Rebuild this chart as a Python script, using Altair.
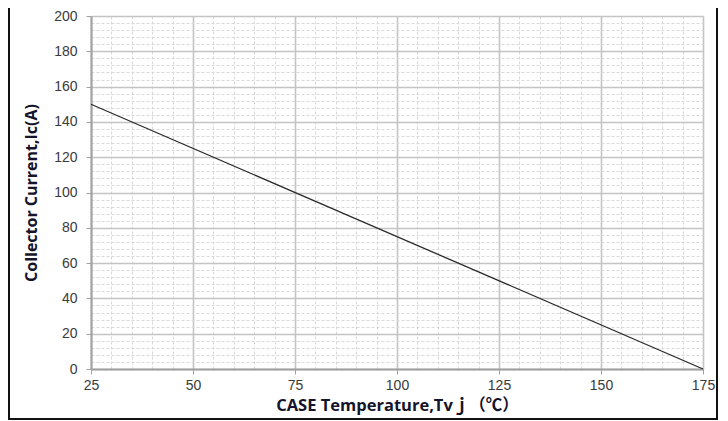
import altair as alt
import pandas as pd

# data
temps = [25, 175]
currents = [150, 0]

x_ticks = list(range(25, 176, 5))
y_ticks = list(range(0, 201, 4))

df = pd.DataFrame({"T": temps, "Ic": currents})
frame_df = pd.DataFrame({"a": [0]})

W, H = 612, 353
PL, PT, PR, PB = 83, 8, 17, 52

label_font = "Liberation Sans"
title_font = "Open Sans, Noto Sans CJK JP"

x_axis = alt.Axis(
    values=x_ticks,
    labelExpr="datum.value % 25 === 0 ? datum.label : ''",
    grid=True,
    gridColor={"condition": {"test": "datum.value % 25 === 0", "value": "#c4c4c4"}, "value": "#d9d9d9"},
    gridDash={"condition": {"test": "datum.value % 25 === 0", "value": []}, "value": [3, 2]},
    gridWidth={"condition": {"test": "datum.value % 25 === 0", "value": 1.6}, "value": 1},
    tickOpacity={"condition": {"test": "datum.value % 25 === 0", "value": 1}, "value": 0},
    tickColor="#a0a0a0",
    tickSize=5,
    domainColor="#a0a0a0",
    domainWidth=2,
    labelFont=label_font,
    labelFontSize=14,
    labelColor="#3a3a3a",
    labelPadding=4,
    labelFlush=False,
    title="CASE Temperature,Tvｊ（℃）",
    titleFont=title_font,
    titleFontSize=16.5,
    titleFontWeight="bold",
    titleColor="#14142a",
    titlePadding=5,
)

y_axis = alt.Axis(
    values=y_ticks,
    labelExpr="datum.value % 20 === 0 ? datum.label : ''",
    grid=True,
    gridColor={"condition": {"test": "datum.value % 20 === 0", "value": "#c4c4c4"}, "value": "#d9d9d9"},
    gridDash={"condition": {"test": "datum.value % 20 === 0", "value": []}, "value": [3, 2]},
    gridWidth={"condition": {"test": "datum.value % 20 === 0", "value": 1.6}, "value": 1},
    tickOpacity={"condition": {"test": "datum.value % 20 === 0", "value": 1}, "value": 0},
    tickColor="#a0a0a0",
    tickSize=5,
    domainColor="#a0a0a0",
    domainWidth=2,
    labelFont=label_font,
    labelFontSize=14,
    labelColor="#3a3a3a",
    labelPadding=9,
    labelFlush=False,
    title="Collector Current,Ic(A)",
    titleFont=title_font,
    titleFontSize=16,
    titleFontWeight="bold",
    titleColor="#14142a",
    titlePadding=14,
)

line = alt.Chart(df).mark_line(color="#2a2a2a", strokeWidth=1.3).encode(
    x=alt.X("T:Q", scale=alt.Scale(domain=[25, 175], nice=False, zero=False), axis=x_axis),
    y=alt.Y("Ic:Q", scale=alt.Scale(domain=[0, 200], nice=False), axis=y_axis),
)

frame = alt.Chart(frame_df).mark_rect(filled=False, stroke="#111111", strokeWidth=2).encode(
    x=alt.value(-PL + 1),
    x2=alt.value(626),
    y=alt.value(-40),
    y2=alt.value(H + PB - 2),
)

chart = alt.layer(line, frame).properties(
    width=W,
    height=H,
    padding={"left": PL, "top": PT, "right": PR, "bottom": PB},
    autosize=alt.AutoSizeParams(type="none"),
    background="white",
).configure_view(stroke=None)

chart.save("out.html", embed_options={"renderer": "svg", "actions": False})
